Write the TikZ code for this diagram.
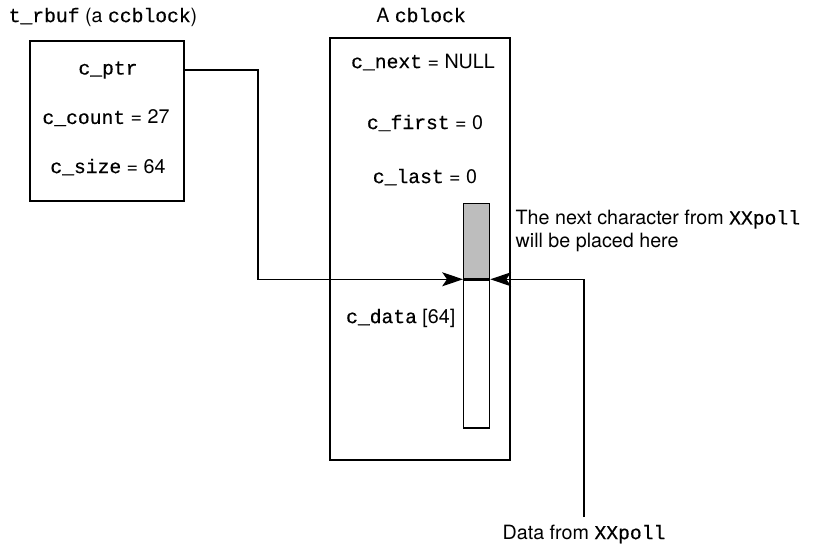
\documentclass[tikz,border=0pt]{standalone}
\usepackage{fontspec}
\setmainfont{TeX Gyre Heros}
\setsansfont{TeX Gyre Heros}
\setmonofont{Liberation Mono}[FakeBold=0.5]
\usepackage{tikz}
\usetikzlibrary{positioning, arrows.meta, calc}
\definecolor{riemp}{HTML}{BDBDBD}
\tikzset{
	>={Stealth[length=5.2mm, width=3.5mm, inset=1.2mm]},
	% struttura (riquadro esterno)
	struttura/.style={draw, line width=1.5pt, rectangle, inner sep=0pt},
	% campo di una struttura
	campo/.style={font=\fontsize{14}{16}\selectfont, inner sep=1pt},
	% titolo sopra la struttura
	titolo/.style={font=\fontsize{14}{16}\selectfont, inner sep=1pt},
	% cella del buffer dati
	cella/.style={draw, line width=0.9pt, rectangle, inner sep=0pt, minimum width=0.65cm},
	% collegamento (puntatore)
	punt/.style={->, line width=0.8pt},
	% nota di testo
	nota/.style={font=\fontsize{14}{16.5}\selectfont, align=left, inner sep=1pt},
}

\begin{document}
\begin{tikzpicture}[x=0.025cm, y=-0.025cm]
    \useasboundingbox (0,0) rectangle (826,546);

    % ---------------- t_rbuf ----------------
    \node[titolo] (trbuf) at (103,17) {\texttt{t\_rbuf} (a \texttt{ccblock})};
    \node[struttura, minimum width=3.85cm, minimum height=4cm] (rbuf) at (107,121) {};
    \node[campo] (ptr) at (108,70) {\texttt{c\_ptr}};
    \node[campo] (count) at (106,118) {\texttt{c\_count} = 27};
    \node[campo] (size) at (108,167) {\texttt{c\_size} = 64};

    % ---------------- cblock ----------------
    \node[titolo] (tcblock) at (421,15) {A \texttt{cblock}};
    \node[struttura, minimum width=4.5cm, minimum height=10.55cm] (cblock) at (420,249) {};
    \node[campo] (next) at (423,62) {\texttt{c\_next} = NULL};
    \node[campo] (first) at (425,123) {\texttt{c\_first} = 0};
    \node[campo] (last) at (425,177) {\texttt{c\_last} = 0};
    \node[campo, anchor=east] (data) at (457,318) {\texttt{c\_data} [64]};

    % ---------------- buffer c_data ----------------
    \node[cella, fill=riemp, minimum height=1.875cm, anchor=north west] (slot) at (463,203) {};
    \node[cella, minimum height=3.7cm, anchor=north west] (buf) at (slot.south west) {};

    % ---------------- collegamenti ----------------
    % c_ptr -> prossima cella libera
    \coordinate (gomito) at (258,70);
    \draw[punt] (ptr -| rbuf.east) -- (gomito) |- (slot.south west);
    % dati in arrivo da XXpoll
    \coordinate (ingresso) at (584,517);
    \draw[punt] (ingresso) |- (slot.south east);

    % ---------------- note ----------------
    \node[nota, anchor=west] (qui) at (514,231) {The next character from \texttt{XXpoll}\\will be placed here};
    \node[nota] (datiin) at (584,534) {Data from \texttt{XXpoll}};
\end{tikzpicture}
\end{document}
